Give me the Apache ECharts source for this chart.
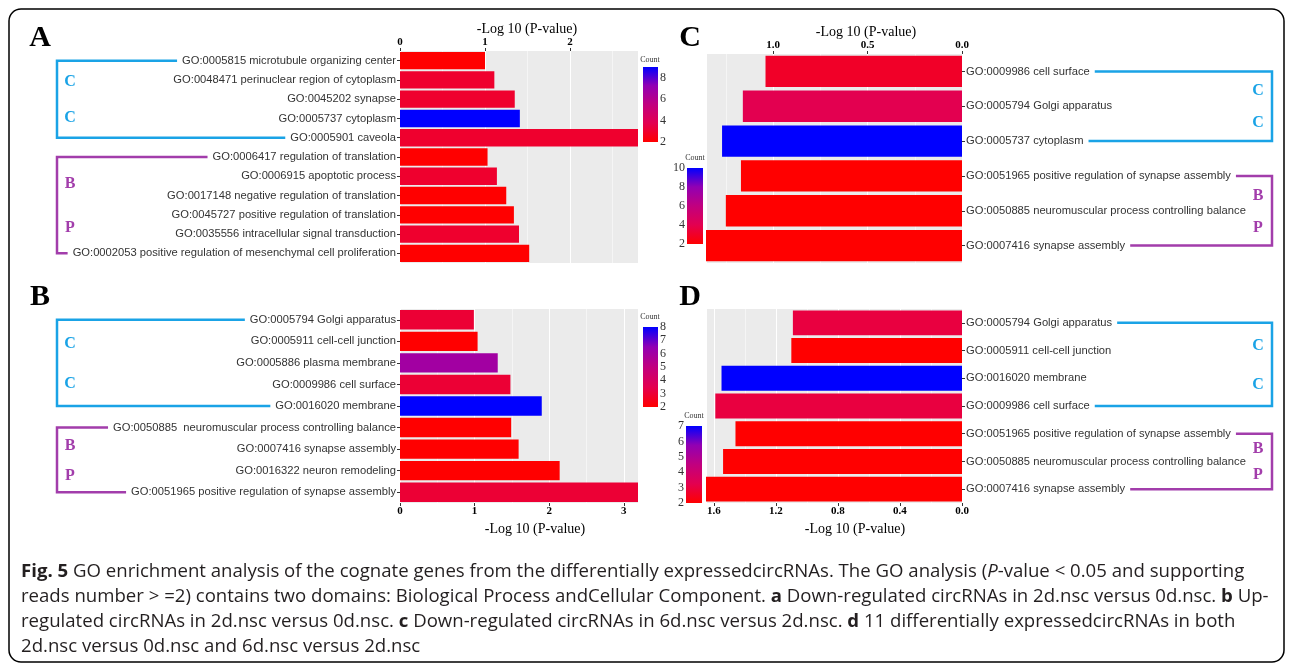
<!DOCTYPE html>
<html>
<head>
<meta charset="utf-8">
<script src="https://cdn.jsdelivr.net/npm/echarts@6/dist/echarts.min.js"></script>
<style>
html, body { margin: 0; padding: 0; background: #fff; }
#chart { width: 1292px; height: 666px; }
</style>
</head>
<body>
<div id="chart"></div>
<script>
// A: down-regulated circRNAs, 2d.nsc vs 0d.nsc
var termsA = [
  'GO:0005815 microtubule organizing center',
  'GO:0048471 perinuclear region of cytoplasm',
  'GO:0045202 synapse',
  'GO:0005737 cytoplasm',
  'GO:0005901 caveola',
  'GO:0006417 regulation of translation',
  'GO:0006915 apoptotic process',
  'GO:0017148 negative regulation of translation',
  'GO:0045727 positive regulation of translation',
  'GO:0035556 intracellular signal transduction',
  'GO:0002053 positive regulation of mesenchymal cell proliferation'
];
var logPA = [1.00, 1.11, 1.35, 1.41, 2.80, 1.03, 1.14, 1.25, 1.34, 1.40, 1.52];
var countA = [2, 3, 3, 9, 3, 2, 3, 2, 2, 3, 2];
var countRangeA = [2, 9];

// B: up-regulated circRNAs, 2d.nsc vs 0d.nsc
var termsB = [
  'GO:0005794 Golgi apparatus',
  'GO:0005911 cell-cell junction',
  'GO:0005886 plasma membrane',
  'GO:0009986 cell surface',
  'GO:0016020 membrane',
  'GO:0050885  neuromuscular process controlling balance',
  'GO:0007416 synapse assembly',
  'GO:0016322 neuron remodeling',
  'GO:0051965 positive regulation of synapse assembly'
];
var logPB = [0.99, 1.04, 1.31, 1.48, 1.90, 1.49, 1.59, 2.14, 3.19];
var countB = [3, 2, 6, 3, 8, 2, 2, 2, 3];
var countRangeB = [2, 8];

// C: down-regulated circRNAs, 6d.nsc vs 2d.nsc
var termsC = [
  'GO:0009986 cell surface',
  'GO:0005794 Golgi apparatus',
  'GO:0005737 cytoplasm',
  'GO:0051965 positive regulation of synapse assembly',
  'GO:0050885 neuromuscular process controlling balance',
  'GO:0007416 synapse assembly'
];
var logPC = [1.04, 1.16, 1.27, 1.17, 1.25, 1.355];
var countC = [3, 4, 10, 2, 2, 2];
var countRangeC = [2, 10];

// D: 11 circRNAs in both comparisons
var termsD = [
  'GO:0005794 Golgi apparatus',
  'GO:0005911 cell-cell junction',
  'GO:0016020 membrane',
  'GO:0009986 cell surface',
  'GO:0051965 positive regulation of synapse assembly',
  'GO:0050885 neuromuscular process controlling balance',
  'GO:0007416 synapse assembly'
];
var logPD = [1.09, 1.10, 1.55, 1.59, 1.46, 1.54, 1.65];
var countD = [3, 2, 7, 3, 2, 2, 2];
var countRangeD = [2, 7];

var captionLines = [
  '{b|Fig. 5} GO enrichment analysis of the cognate genes from the differentially expressedcircRNAs. The GO analysis ({i|P}-value < 0.05 and supporting',
  'reads number > =2) contains two domains: Biological Process andCellular Component. {b|a} Down-regulated circRNAs in 2d.nsc versus 0d.nsc. {b|b} Up-',
  'regulated circRNAs in 2d.nsc versus 0d.nsc. {b|c} Down-regulated circRNAs in 6d.nsc versus 2d.nsc. {b|d} 11 differentially expressedcircRNAs in both',
  '2d.nsc versus 0d.nsc and 6d.nsc versus 2d.nsc'
];

var serif = "'Liberation Serif', 'Times New Roman', serif";
var catFont = "'Liberation Sans Narrow', 'Arial Narrow', 'Liberation Sans', sans-serif";
var catSize = 11.2;
var capFont = "'Open Sans', 'Noto Sans', sans-serif";
var capSize = 18.6;
var fillStops = ['#FF0000', '#E30050', '#C1007F', '#9200B3', '#0000FF'];
var cyan = '#1AA3E6';
var purple = '#A23DAB';

var panels = [
  { letter: 'A', terms: termsA, logP: logPA, count: countA, range: countRangeA, side: 'left', xPos: 'top',
    max: 2.8, step: 1, dec: 0, grid: [400, 51, 238, 212], bar: [643, 67, 15, 75], barStep: 2,
    letterAt: [40, 38], nameShift: 8, groups: [[0, 4, cyan, 'C', 'C'], [5, 10, purple, 'B', 'P']] },
  { letter: 'B', terms: termsB, logP: logPB, count: countB, range: countRangeB, side: 'left', xPos: 'bottom',
    max: 3.19, step: 1, dec: 0, grid: [400, 309, 238, 194], bar: [643, 327, 15, 80], barStep: 1,
    letterAt: [40, 297], nameShift: 16, groups: [[0, 4, cyan, 'C', 'C'], [5, 8, purple, 'B', 'P']] },
  { letter: 'C', terms: termsC, logP: logPC, count: countC, range: countRangeC, side: 'right', xPos: 'top',
    max: 1.355, step: 0.5, dec: 1, grid: [706, 54, 256, 209], bar: [687, 168, 16, 76], barStep: 2,
    letterAt: [690, 38], nameShift: 32, groups: [[0, 2, cyan, 'C', 'C'], [3, 5, purple, 'B', 'P']] },
  { letter: 'D', terms: termsD, logP: logPD, count: countD, range: countRangeD, side: 'right', xPos: 'bottom',
    max: 1.65, step: 0.4, dec: 1, grid: [706, 309, 256, 194], bar: [686, 426, 16, 77], barStep: 1,
    letterAt: [690, 297], nameShift: 21, groups: [[0, 3, cyan, 'C', 'C'], [4, 6, purple, 'B', 'P']] }
];

var chart = echarts.init(document.getElementById('chart'));
var grids = [], xAxes = [], yAxes = [], series = [], visualMaps = [];

panels.forEach(function (p, i) {
  var right = p.side === 'right';
  grids.push({ left: p.grid[0], top: p.grid[1], width: p.grid[2], height: p.grid[3],
    show: true, backgroundColor: '#EBEBEB', borderWidth: 0, outerBoundsMode: 'none' });
  xAxes.push({
    type: 'value', gridIndex: i, position: p.xPos, inverse: right,
    min: 0, max: p.max, interval: p.step,
    name: '-Log 10 (P-value)', nameLocation: 'middle', nameGap: p.xPos === 'top' ? 14 : 19,
    nameTextStyle: { fontFamily: serif, fontSize: 14, color: '#000', padding: [0, 0, 0, p.nameShift * 2] },
    axisLine: { show: false },
    axisTick: { show: true, length: 3, lineStyle: { color: '#333' } },
    axisLabel: { fontFamily: serif, fontWeight: 'bold', fontSize: 11, color: '#000', margin: 3, showMaxLabel: false,
      formatter: function (v) { return v.toFixed(p.dec); } },
    splitLine: { show: true, lineStyle: { color: '#fff', width: 1.1 } },
    minorTick: { show: false, splitNumber: 2 },
    minorSplitLine: { show: true, lineStyle: { color: '#fff', width: 0.5 } }
  });
  yAxes.push({
    type: 'category', gridIndex: i, data: p.terms, inverse: true, position: right ? 'right' : 'left',
    axisLine: { show: false },
    axisTick: { show: true, length: 3, alignWithLabel: true, lineStyle: { color: '#333' } },
    axisLabel: { fontFamily: catFont, fontSize: catSize, color: '#333', margin: 4 },
    splitLine: { show: false }
  });
  series.push({
    type: 'bar', xAxisIndex: i, yAxisIndex: i, barCategoryGap: '10%', silent: true,
    data: p.terms.map(function (t, k) { return [p.logP[k], t, p.count[k]]; })
  });
  visualMaps.push({ type: 'continuous', show: false, seriesIndex: i, dimension: 2,
    min: p.range[0], max: p.range[1], inRange: { color: fillStops } });
});

// colour bars for Count
var gradStops = fillStops.map(function (c, k) { return { offset: k / (fillStops.length - 1), color: c }; });
panels.forEach(function (p, i) {
  var g = 4 + i;
  var labLeft = p.side === 'right';
  var lo = p.range[0], st = p.barStep;
  grids.push({ left: p.bar[0], top: p.bar[1], width: p.bar[2], height: p.bar[3], outerBoundsMode: 'none' });
  xAxes.push({ type: 'category', gridIndex: g, data: ['Count'], show: false });
  var common = { type: 'value', gridIndex: g, min: p.range[0], max: p.range[1], interval: st,
    axisLine: { show: false }, splitLine: { show: false },
    axisTick: { show: true, inside: true, length: 3, lineStyle: { color: '#fff', width: 1 } } };
  yAxes.push(Object.assign({}, common, {
    position: labLeft ? 'left' : 'right',
    name: 'Count', nameLocation: 'end', nameGap: 3,
    nameTextStyle: { fontFamily: serif, fontSize: 8, color: '#333',
      padding: labLeft ? [0, 0, 0, 16] : [0, 16, 0, 0] },
    axisLabel: { fontFamily: serif, fontSize: 12, color: '#333', margin: 2,
      formatter: function (v) { return Math.abs((v - lo) / st - Math.round((v - lo) / st)) < 1e-6 ? String(v) : ''; } }
  }));
  yAxes.push(Object.assign({}, common, { position: labLeft ? 'right' : 'left', axisLabel: { show: false } }));
  series.push({
    type: 'bar', xAxisIndex: g, yAxisIndex: 4 + 2 * i, barWidth: '100%', silent: true,
    data: [p.range[1]],
    itemStyle: { color: new echarts.graphic.LinearGradient(0, 1, 0, 0, gradStops) }
  });
});

chart.setOption({
  animation: false,
  grid: grids,
  xAxis: xAxes,
  yAxis: yAxes,
  visualMap: visualMaps,
  series: series
});

// brackets, panel letters, caption
var ctx = document.createElement('canvas').getContext('2d');
function textWidth(s, font) { ctx.font = font; return ctx.measureText(s).width; }

var graphics = [];
graphics.push({ type: 'rect', silent: true, shape: { x: 9, y: 9, width: 1275, height: 653, r: 12 },
  style: { fill: null, stroke: '#000', lineWidth: 1.5 } });

panels.forEach(function (p, i) {
  var right = p.side === 'right';
  var labFont = catSize + 'px ' + catFont;
  var edge = right ? p.grid[0] + p.grid[2] + 7 : p.grid[0] - 7;
  var vx = right ? 1272 : 57;
  var lx = right ? 1258 : 70;
  graphics.push({ type: 'text', silent: true, x: p.letterAt[0], y: p.letterAt[1],
    style: { text: p.letter, font: 'bold 30px ' + serif, fill: '#000', align: 'center', verticalAlign: 'middle' } });
  p.groups.forEach(function (gp) {
    var t0 = p.terms[gp[0]], t1 = p.terms[gp[1]];
    var y0 = chart.convertToPixel({ yAxisIndex: i }, t0);
    var y1 = chart.convertToPixel({ yAxisIndex: i }, t1);
    var w0 = textWidth(t0, labFont), w1 = textWidth(t1, labFont);
    var x0 = right ? edge + w0 + 2 : edge - w0 - 2;
    var x1 = right ? edge + w1 + 2 : edge - w1 - 2;
    graphics.push({ type: 'polyline', silent: true,
      shape: { points: [[x0, y0], [vx, y0], [vx, y1], [x1, y1]] },
      style: { stroke: gp[2], lineWidth: 2.5, fill: null } });
    [[gp[3], 0.28], [gp[4], 0.74]].forEach(function (l) {
      graphics.push({ type: 'text', silent: true, x: lx, y: y0 + (y1 - y0) * l[1],
        style: { text: l[0], font: 'bold 16px ' + serif, fill: gp[2], align: 'center', verticalAlign: 'middle' } });
    });
  });
});

captionLines.forEach(function (line, k) {
  graphics.push({ type: 'text', silent: true, x: 21, y: 572 + k * 25,
    style: {
      text: line, fill: '#231F20', fontSize: capSize, fontFamily: capFont, verticalAlign: 'middle',
      rich: {
        b: { fontSize: capSize, fontFamily: capFont, fontWeight: 'bold', fill: '#231F20' },
        i: { fontSize: capSize, fontFamily: capFont, fontStyle: 'italic', fill: '#231F20' }
      }
    } });
});

chart.setOption({ graphic: graphics });
</script>
</body>
</html>
